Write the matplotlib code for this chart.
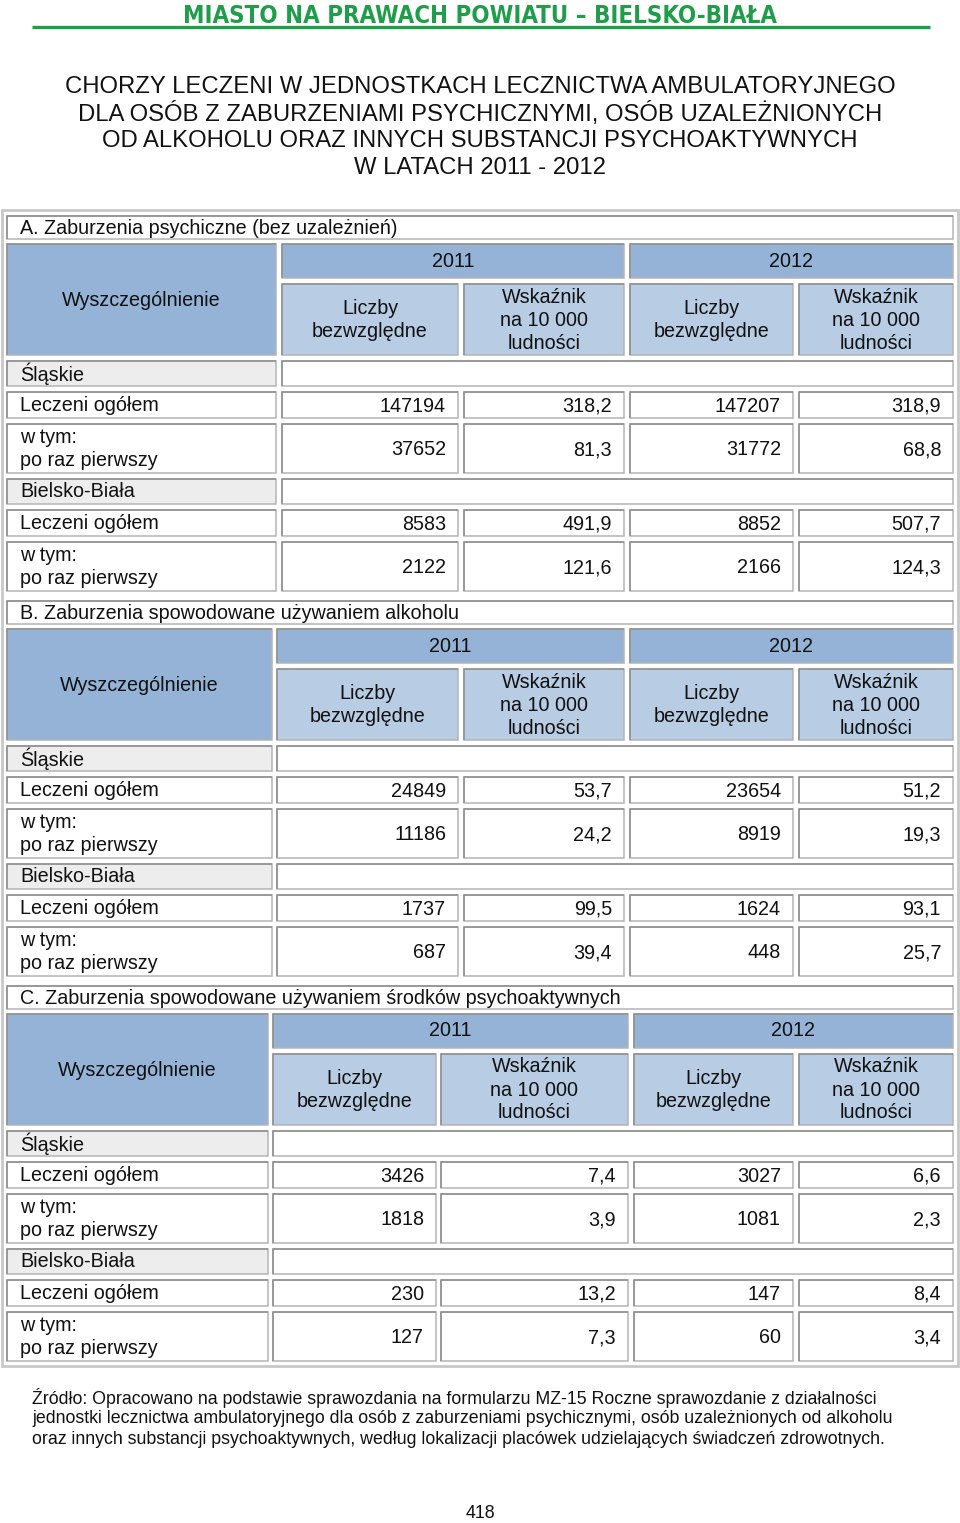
import matplotlib.pyplot as plt
from matplotlib.patches import Rectangle

# dane z tabeli
naglowek = 'MIASTO NA PRAWACH POWIATU – BIELSKO-BIAŁA'
tytul = ['CHORZY LECZENI W JEDNOSTKACH LECZNICTWA AMBULATORYJNEGO',
         'DLA OSÓB Z ZABURZENIAMI PSYCHICZNYMI, OSÓB UZALEŻNIONYCH',
         'OD ALKOHOLU ORAZ INNYCH SUBSTANCJI PSYCHOAKTYWNYCH',
         'W LATACH 2011 - 2012']
sekcje = ['A. Zaburzenia psychiczne (bez uzależnień)',
          'B. Zaburzenia spowodowane używaniem alkoholu',
          'C. Zaburzenia spowodowane używaniem środków psychoaktywnych']
lata = ['2011', '2012']
kolumny = ['Liczby\nbezwzględne', 'Wskaźnik\nna 10 000\nludności']
regiony = ['Śląskie', 'Bielsko-Biała']
wiersze = ['Leczeni ogółem', 'w tym:\npo raz pierwszy']

# (liczba 2011, wskaźnik 2011, liczba 2012, wskaźnik 2012)
slaskie_ogolem = [(147194, 318.2, 147207, 318.9), (24849, 53.7, 23654, 51.2), (3426, 7.4, 3027, 6.6)]
slaskie_pierwszy = [(37652, 81.3, 31772, 68.8), (11186, 24.2, 8919, 19.3), (1818, 3.9, 1081, 2.3)]
bb_ogolem = [(8583, 491.9, 8852, 507.7), (1737, 99.5, 1624, 93.1), (230, 13.2, 147, 8.4)]
bb_pierwszy = [(2122, 121.6, 2166, 124.3), (687, 39.4, 448, 25.7), (127, 7.3, 60, 3.4)]

zrodlo = ['Źródło: Opracowano na podstawie sprawozdania na formularzu MZ-15 Roczne sprawozdanie z działalności',
          'jednostki lecznictwa ambulatoryjnego dla osób z zaburzeniami psychicznymi, osób uzależnionych od alkoholu',
          'oraz innych substancji psychoaktywnych, według lokalizacji placówek udzielających świadczeń zdrowotnych.']
strona = '418'

# układ
tops = [244, 629, 1014]
label_cols = [(7, 276), (7, 272), (7, 268)]
data_cols = [[(282, 458), (464, 624), (630, 793), (799, 953)],
             [(277, 458), (464, 624), (630, 793), (799, 953)],
             [(273, 436), (441, 628), (634, 793), (799, 953)]]

DARK = '#95b3d7'
LIGHT = '#b8cce4'
GRAY = '#ededed'
TXT = '#111111'
GREEN = '#1f9e4a'
SANS = ['Liberation Sans', 'DejaVu Sans']
FS = 14.2
LH = 23

fig = plt.figure(figsize=(9.6, 15.23), dpi=100)
ax = fig.add_axes([0, 0, 1, 1])
ax.set_xlim(0, 960)
ax.set_ylim(1523, 0)
ax.axis('off')


def cell(x0, x1, y0, y1, color='white'):
    ax.add_patch(Rectangle((x0, y0), x1 - x0, y1 - y0, facecolor=color,
                           edgecolor='#b4b4b4', lw=1.1))
    ax.plot([x0, x0, x1], [y1, y0, y0], color='#8e8e8e', lw=1.1, solid_capstyle='butt')


def lines(x, yc, txt, ha='center'):
    parts = txt.split('\n')
    n = len(parts)
    for i, p in enumerate(parts):
        ax.text(x, yc + (i - (n - 1) / 2) * LH, p, ha=ha, va='center',
                fontsize=FS, color=TXT, family=SANS)


def fmt(v):
    return f'{v:.1f}'.replace('.', ',')


# nagłówek strony
ax.text(480, 16, naglowek, ha='center', va='center', fontsize=17.2, color=GREEN,
        family='DejaVu Sans', fontstretch='condensed', fontweight='bold')
ax.plot([32, 930], [27, 27], color=GREEN, lw=2.4, solid_capstyle='butt')

for i, line in enumerate(tytul):
    ax.text(480, 87 + 27 * i, line, ha='center', va='center', fontsize=17.2, color=TXT, family=SANS)

# ramka tabeli
ax.add_patch(Rectangle((2, 210), 956, 1156, facecolor='white', edgecolor='#c8c8c8', lw=2))

for s in range(3):
    top = tops[s]
    lx0, lx1 = label_cols[s]
    dc = data_cols[s]

    # wiersz z nazwą sekcji
    cell(lx0, 953, top - 28, top - 5)
    lines(20, top - 16, sekcje[s], ha='left')

    # nagłówki
    cell(lx0, lx1, top, top + 111, DARK)
    lines((lx0 + lx1) / 2, top + 56, 'Wyszczególnienie')
    for y in range(2):
        x0, x1 = dc[2 * y][0], dc[2 * y + 1][1]
        cell(x0, x1, top, top + 34, DARK)
        lines((x0 + x1) / 2, top + 17, lata[y])
        for k in range(2):
            cx0, cx1 = dc[2 * y + k]
            cell(cx0, cx1, top + 40, top + 111, LIGHT)
            lines((cx0 + cx1) / 2, top + 76, kolumny[k])

    rows = [(regiony[0], None), (wiersze[0], slaskie_ogolem[s]), (wiersze[1], slaskie_pierwszy[s]),
            (regiony[1], None), (wiersze[0], bb_ogolem[s]), (wiersze[1], bb_pierwszy[s])]
    offs = [(117, 142), (148, 174), (180, 229), (235, 260), (266, 292), (298, 347)]
    for (name, vals), (o0, o1) in zip(rows, offs):
        y0, y1 = top + o0, top + o1
        ym = (y0 + y1) / 2
        if vals is None:
            cell(lx0, lx1, y0, y1, GRAY)
            cell(dc[0][0], dc[3][1], y0, y1)
            lines(20, ym, name, ha='left')
            continue
        cell(lx0, lx1, y0, y1)
        lines(20, ym + 0.5, name, ha='left')
        for k, v in enumerate(vals):
            cx0, cx1 = dc[k]
            cell(cx0, cx1, y0, y1)
            t = str(v) if k % 2 == 0 else fmt(v)
            lines(cx1 - 12, ym + 1, t, ha='right')

# źródło
for i, line in enumerate(zrodlo):
    ax.text(32, 1398 + 20.5 * i, line, ha='left', va='center', fontsize=12.8, color=TXT,
            family=SANS)
ax.text(480, 1513, strona, ha='center', va='center', fontsize=12.8, color=TXT, family=SANS)

fig.savefig('out.png', dpi=100)
